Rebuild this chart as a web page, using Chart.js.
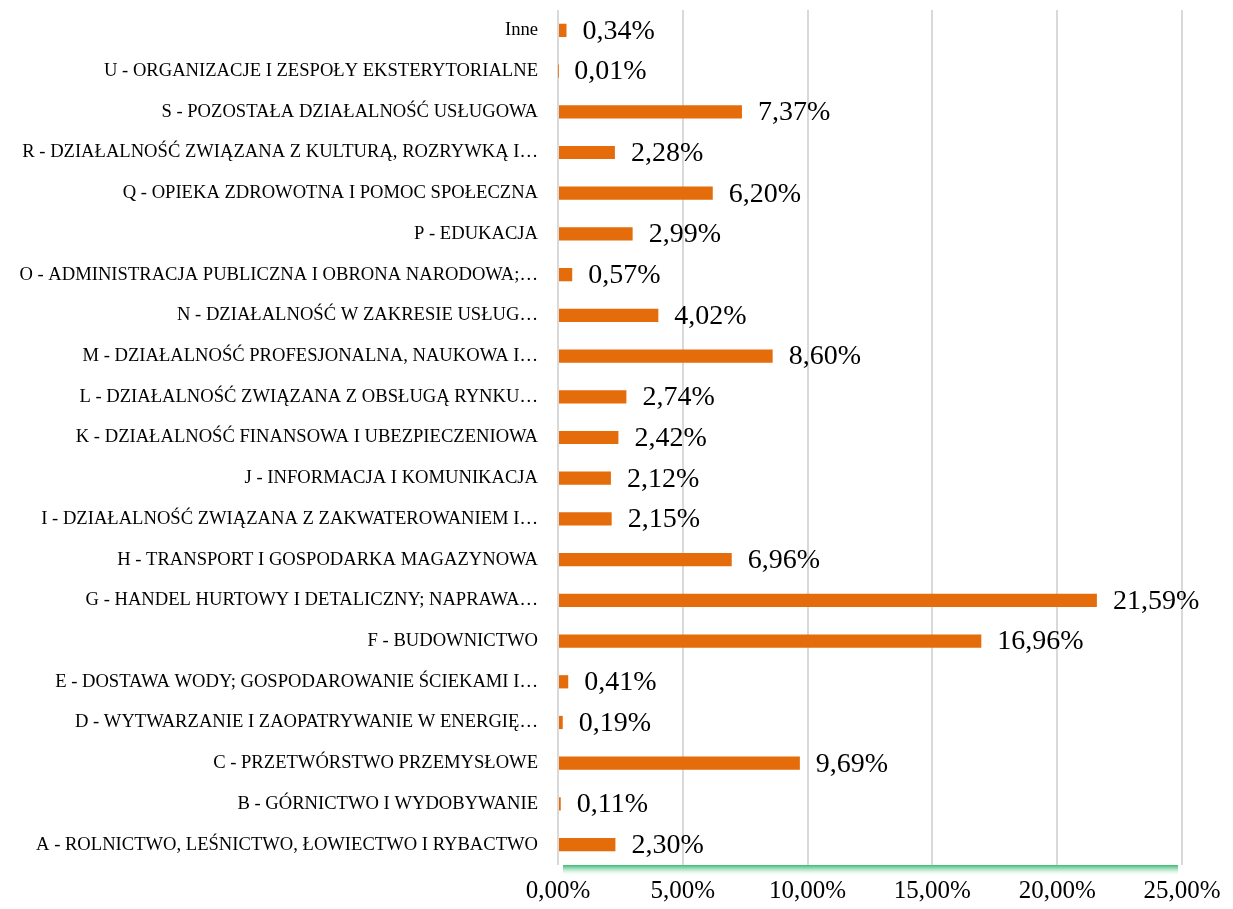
<!DOCTYPE html>
<html lang="pl">
<head>
    <meta charset="UTF-8">
    <title>Struktura wg sekcji PKD</title>
    <script src="https://cdn.jsdelivr.net/npm/chart.js"></script>
    <style>
        html, body { margin: 0; padding: 0; background: #fff; }
        #wrap { width: 1233px; height: 909px; }
    </style>
</head>
<body>
    <div id="wrap"><canvas id="chartPKD"></canvas></div>

    <script>
        // Sekcje PKD, od góry do dołu
        const categories = [
            'Inne',
            'U - ORGANIZACJE I ZESPOŁY EKSTERYTORIALNE',
            'S - POZOSTAŁA DZIAŁALNOŚĆ USŁUGOWA',
            'R - DZIAŁALNOŚĆ ZWIĄZANA Z KULTURĄ, ROZRYWKĄ I…',
            'Q - OPIEKA ZDROWOTNA I POMOC SPOŁECZNA',
            'P - EDUKACJA',
            'O - ADMINISTRACJA PUBLICZNA I OBRONA NARODOWA;…',
            'N - DZIAŁALNOŚĆ W ZAKRESIE USŁUG…',
            'M - DZIAŁALNOŚĆ PROFESJONALNA, NAUKOWA I…',
            'L - DZIAŁALNOŚĆ ZWIĄZANA Z OBSŁUGĄ RYNKU…',
            'K - DZIAŁALNOŚĆ FINANSOWA I UBEZPIECZENIOWA',
            'J - INFORMACJA I KOMUNIKACJA',
            'I - DZIAŁALNOŚĆ ZWIĄZANA Z ZAKWATEROWANIEM I…',
            'H - TRANSPORT I GOSPODARKA MAGAZYNOWA',
            'G - HANDEL HURTOWY I DETALICZNY; NAPRAWA…',
            'F - BUDOWNICTWO',
            'E - DOSTAWA WODY; GOSPODAROWANIE ŚCIEKAMI I…',
            'D - WYTWARZANIE I ZAOPATRYWANIE W ENERGIĘ…',
            'C - PRZETWÓRSTWO PRZEMYSŁOWE',
            'B - GÓRNICTWO I WYDOBYWANIE',
            'A - ROLNICTWO, LEŚNICTWO, ŁOWIECTWO I RYBACTWO'
        ];

        // udział w procentach
        const shares = [
            0.34, 0.01, 7.37, 2.28, 6.20, 2.99, 0.57, 4.02, 8.60, 2.74, 2.42,
            2.12, 2.15, 6.96, 21.59, 16.96, 0.41, 0.19, 9.69, 0.11, 2.30
        ];

        const xTicks = [0, 5, 10, 15, 20, 25];

        const fmtPct = v => v.toFixed(2).replace('.', ',') + '%';

        // etykiety wartości obok słupków
        const valueLabels = {
            id: 'valueLabels',
            afterDatasetsDraw(chart) {
                const ctx = chart.ctx;
                const meta = chart.getDatasetMeta(0);
                ctx.save();
                ctx.font = '28px "Liberation Serif"';
                ctx.fillStyle = '#000';
                ctx.textAlign = 'left';
                ctx.textBaseline = 'middle';
                meta.data.forEach((bar, i) => {
                    ctx.fillText(fmtPct(shares[i]), bar.x + 16, bar.y + 1);
                });
                ctx.restore();
            }
        };

        // zielona linia pod osią X z cieniem
        const axisShadow = {
            id: 'axisShadow',
            afterDraw(chart) {
                const ctx = chart.ctx;
                const a = chart.chartArea;
                const g = ctx.createLinearGradient(0, a.bottom, 0, a.bottom + 10);
                g.addColorStop(0, 'rgba(52,180,110,0.95)');
                g.addColorStop(0.35, 'rgba(110,205,150,0.7)');
                g.addColorStop(1, 'rgba(200,240,215,0)');
                ctx.save();
                ctx.fillStyle = g;
                ctx.fillRect(a.left + 5, a.bottom, a.right - a.left - 9, 10);
                ctx.restore();
            }
        };

        new Chart(document.getElementById('chartPKD'), {
            type: 'bar',
            data: {
                labels: categories,
                datasets: [{
                    data: shares,
                    backgroundColor: '#E46C0A',
                    borderWidth: 0,
                    barPercentage: 0.65,
                    categoryPercentage: 0.5
                }]
            },
            options: {
                indexAxis: 'y',
                responsive: true,
                maintainAspectRatio: false,
                animation: false,
                layout: { padding: { top: 10, right: 51, left: 0, bottom: 0 } },
                plugins: {
                    legend: { display: false },
                    tooltip: { enabled: false }
                },
                scales: {
                    x: {
                        min: 0,
                        max: 25,
                        afterBuildTicks(scale) {
                            scale.ticks = xTicks.map(v => ({ value: v }));
                        },
                        afterFit(scale) { scale.height = 44; },
                        ticks: {
                            callback: v => fmtPct(v),
                            color: '#000',
                            font: { family: 'Liberation Serif', size: 25 },
                            padding: 11,
                            maxRotation: 0
                        },
                        grid: { color: '#d9d9d9', lineWidth: 2, drawTicks: false },
                        border: { display: false }
                    },
                    y: {
                        afterFit(scale) {
                            scale.width = 558;
                            scale.paddingTop = 0;
                            scale.paddingBottom = 0;
                        },
                        ticks: {
                            color: '#000',
                            font: { family: 'Liberation Serif', size: 18.6 },
                            padding: 20,
                            autoSkip: false
                        },
                        grid: { display: false, drawTicks: false },
                        border: { display: false }
                    }
                }
            },
            plugins: [valueLabels, axisShadow]
        });
    </script>
</body>
</html>
